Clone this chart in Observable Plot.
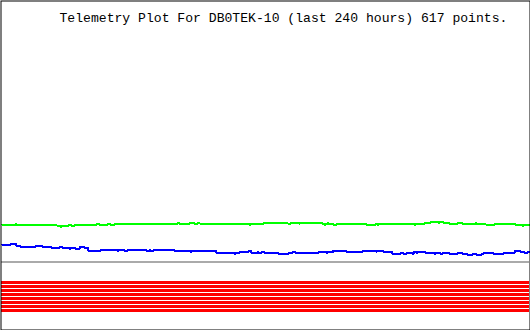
<!DOCTYPE html>
<html>
<head>
<meta charset="utf-8">
<script src="https://cdn.jsdelivr.net/npm/d3@7"></script>
<script src="https://cdn.jsdelivr.net/npm/@observablehq/plot@0.6"></script>
<style>
  html, body { margin: 0; padding: 0; background: #fff; }
  svg { display: block; }
</style>
</head>
<body>
<div id="chart"></div>
<script>
// Title
const title = "Telemetry Plot For DB0TEK-10 (last 240 hours) 617 points.";

// Channel 1 (green): step change times (hours) and values
const greenT = [0, 6.4, 6.8, 19.1, 19.5, 21.4, 21.8, 25.0, 26.4, 27.7, 30.5, 31.8, 33.6, 43.6, 44.5, 48.6, 49.1, 51.8,
  80.0, 80.5, 85.9, 86.4, 86.8, 87.7, 89.1, 90.0, 112.3, 113.2, 119.1, 130.0, 131.4, 135.0, 135.5, 145.9, 146.8, 147.3,
  148.2, 148.6, 150.5, 152.7, 165.5, 170.0, 170.9, 171.4, 176.4, 176.8, 187.3, 188.2, 192.7, 195.0, 198.2, 199.5, 200.5,
  203.2, 207.7, 209.5, 214.1, 214.5, 215.5, 215.9, 220.0, 224.5, 233.6, 236.8, 237.3, 240];
const greenV = [106, 107, 106, 105, 106, 105, 106, 105, 104, 105, 106, 105, 106, 107, 106, 107, 106, 107,
  108, 107, 108, 107, 108, 107, 108, 107, 106, 107, 108, 107, 108, 107, 108, 107, 106, 107,
  108, 107, 106, 107, 106, 107, 106, 107, 106, 107, 106, 107, 108, 109, 108, 109, 108,
  107, 108, 107, 106, 107, 108, 107, 106, 107, 106, 105, 106, 106];

// Channel 2 (blue)
const blueT = [0, 4.1, 6.4, 8.2, 13.2, 13.6, 15.5, 18.6, 22.7, 26.4, 27.7, 30.5, 31.8, 33.6, 35.9, 37.3, 39.1, 45.0,
  52.7, 53.6, 55.5, 57.3, 65.5, 67.3, 67.7, 69.1, 78.2, 85.9, 86.8, 97.3, 105.5, 106.4, 108.2, 112.3, 113.2, 116.4,
  116.8, 118.6, 119.5, 125.5, 130.5, 132.3, 133.6, 144.1, 147.3, 148.6, 150.5, 150.9, 156.4, 164.5, 170.0, 170.9,
  173.6, 177.7, 181.4, 182.7, 184.5, 186.8, 187.3, 188.2, 189.5, 192.7, 196.4, 197.3, 199.5, 200.9, 203.2, 207.7,
  209.5, 211.8, 214.5, 215.5, 218.6, 219.1, 223.6, 228.6, 233.6, 235.9, 237.3, 239.5, 240];
const blueV = [86, 87, 85, 84, 83, 84, 85, 84, 83, 84, 83, 82, 83, 82, 84, 83, 80, 81,
  80, 81, 80, 81, 80, 81, 80, 81, 80, 79, 80, 78, 77, 78, 79, 80, 78, 79,
  78, 79, 78, 77, 78, 79, 78, 79, 78, 79, 78, 80, 79, 80, 79, 80,
  79, 77, 78, 77, 78, 77, 79, 78, 79, 78, 77, 78, 77, 78, 77, 78,
  77, 76, 77, 76, 77, 78, 77, 78, 80, 79, 78, 79, 79];

// Channel 3 (gray): constant
const grayV = 69;

// Digital bits (red), constant levels
const bitLevels = [48.5, 44.5, 40.5, 36.5, 32.5, 28.5, 24.5, 20.5];

const green = greenT.map((t, i) => ({t, v: greenV[i]}));
const blue = blueT.map((t, i) => ({t, v: blueV[i]}));

const chart = Plot.plot({
  width: 530,
  height: 330,
  margin: 0,
  style: {background: "white"},
  x: {domain: [0, 240], range: [1, 529], axis: null},
  y: {domain: [0, 330], range: [330, 0], axis: null},
  marks: [
    Plot.ruleY(bitLevels, {y: d => d, x1: 0, x2: 240, stroke: "#ff0000", strokeWidth: 3, shapeRendering: "crispEdges"}),
    Plot.ruleY([grayV], {y: d => d, x1: 0, x2: 240, stroke: "#aaaaaa", strokeWidth: 2, shapeRendering: "crispEdges"}),
    Plot.line(blue, {x: "t", y: "v", curve: "step-after", stroke: "#0000ff", strokeWidth: 2, shapeRendering: "crispEdges"}),
    Plot.line(green, {x: "t", y: "v", curve: "step-after", stroke: "#00ff00", strokeWidth: 2, shapeRendering: "crispEdges"}),
    Plot.text([title], {frameAnchor: "top-left", textAnchor: "start", lineAnchor: "bottom", dx: 59, dy: 21,
      fontFamily: "Liberation Mono", fontSize: 13.1, fill: "black"}),
    Plot.frame({stroke: "black", strokeWidth: 1, inset: 0.5})
  ]
});
document.getElementById("chart").appendChild(chart);
</script>
</body>
</html>
